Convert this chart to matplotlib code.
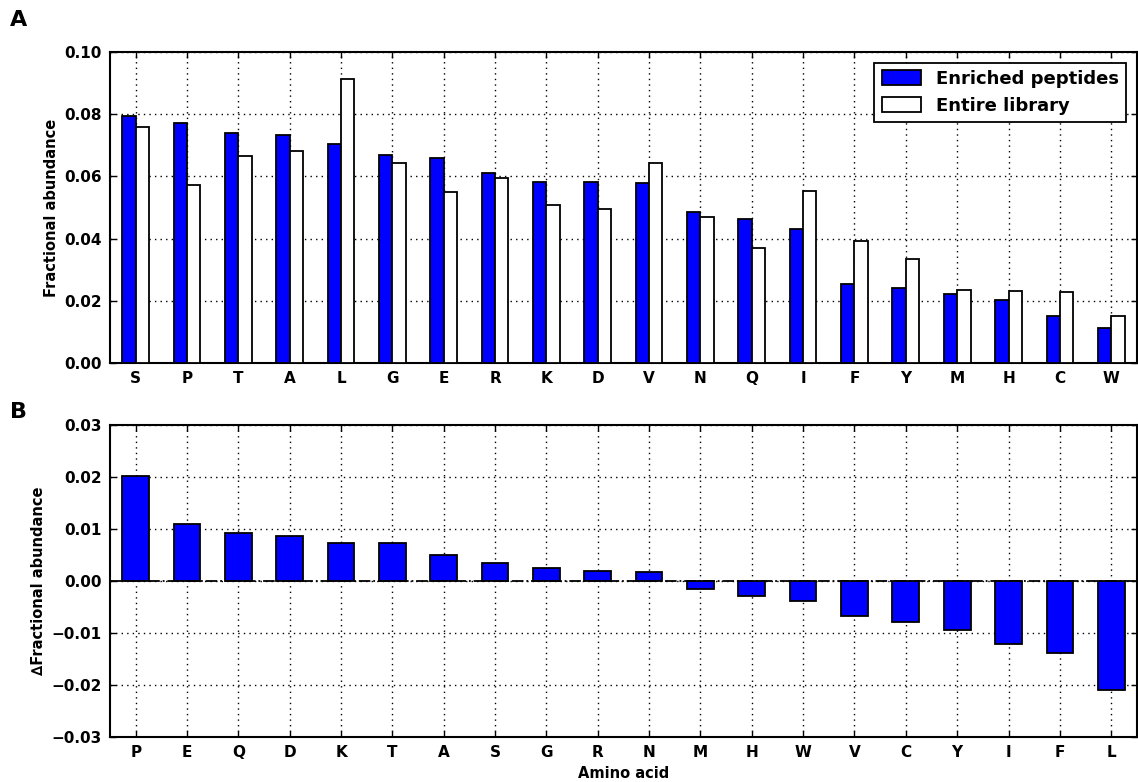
import matplotlib
matplotlib.use("Agg")
import matplotlib.pyplot as plt
import numpy as np

# panel A: fractional abundance per amino acid
amino_a = ["S", "P", "T", "A", "L", "G", "E", "R", "K", "D",
           "V", "N", "Q", "I", "F", "Y", "M", "H", "C", "W"]
enriched = [0.0793, 0.0773, 0.0740, 0.0732, 0.0703, 0.0668, 0.0659, 0.0612, 0.0582, 0.0581,
            0.0579, 0.0486, 0.0463, 0.0431, 0.0254, 0.0240, 0.0222, 0.0204, 0.0152, 0.0113]
library = [0.0759, 0.0571, 0.0667, 0.0682, 0.0913, 0.0642, 0.0549, 0.0594, 0.0507, 0.0495,
           0.0644, 0.0468, 0.0370, 0.0553, 0.0392, 0.0333, 0.0235, 0.0231, 0.0228, 0.0150]

# panel B: difference, sorted
amino_b = ["P", "E", "Q", "D", "K", "T", "A", "S", "G", "R",
           "N", "M", "H", "W", "V", "C", "Y", "I", "F", "L"]
delta = [0.0202, 0.0110, 0.0093, 0.0086, 0.0074, 0.0073, 0.0051, 0.0035, 0.0026, 0.0019,
         0.0018, -0.0015, -0.0029, -0.0038, -0.0067, -0.0079, -0.0094, -0.0122, -0.0138, -0.0210]

plt.rcParams["font.family"] = "DejaVu Sans"
plt.rcParams["font.weight"] = "bold"
plt.rcParams["axes.labelweight"] = "bold"

fig = plt.figure(figsize=(11.38, 7.82), dpi=100)
ax1 = fig.add_axes([0.0967, 0.5358, 0.9023, 0.3977])
ax2 = fig.add_axes([0.0967, 0.0575, 0.9023, 0.3990])

blue = "#0000ff"
w = 0.26
x = np.arange(len(amino_a))
ax1.bar(x - w / 2, enriched, w, color=blue, edgecolor="black", linewidth=1.3,
        label="Enriched peptides", zorder=3)
ax1.bar(x + w / 2, library, w, color="white", edgecolor="black", linewidth=1.3,
        label="Entire library", zorder=3)
ax1.set_xlim(-0.5, len(amino_a) - 0.5)
ax1.set_ylim(0, 0.10)
ax1.set_xticks(x)
ax1.set_xticklabels(amino_a)
ax1.set_yticks(np.arange(0, 0.101, 0.02))
ax1.set_ylabel("Fractional abundance", fontsize=10.5)
leg = ax1.legend(loc="upper right", fontsize=13, fancybox=False, framealpha=1,
                 edgecolor="black", handlelength=2.2, handleheight=0.9,
                 borderaxespad=0.6)
leg.get_frame().set_linewidth(1.3)

xb = np.arange(len(amino_b))
ax2.bar(xb, delta, 0.52, color=blue, edgecolor="black", linewidth=1.3, zorder=3)
ax2.axhline(0, color="black", linestyle="-.", linewidth=1.3, zorder=4)
ax2.set_xlim(-0.5, len(amino_b) - 0.5)
ax2.set_ylim(-0.03, 0.03)
ax2.set_xticks(xb)
ax2.set_xticklabels(amino_b)
ax2.set_yticks(np.arange(-0.03, 0.031, 0.01))
ax2.set_ylabel("\u2206Fractional abundance", fontsize=10.5)
ax2.set_xlabel("Amino acid", fontsize=10.5, labelpad=4)

fmt = matplotlib.ticker.FuncFormatter(lambda v, p: ("%.2f" % v).replace("-", "\u2212"))
for ax in (ax1, ax2):
    ax.yaxis.set_major_formatter(fmt)
    ax.grid(True, color="black", linestyle=(0, (1, 3)), linewidth=1.0, zorder=0)
    ax.set_axisbelow(True)
    ax.tick_params(direction="in", top=True, right=True, length=4, width=1,
                   labelsize=11, pad=6)
    for s in ax.spines.values():
        s.set_linewidth(1.5)
    for lab in ax.get_xticklabels() + ax.get_yticklabels():
        lab.set_fontweight("bold")

fig.text(0.009, 0.975, "A", fontsize=16, fontweight="bold", va="center")
fig.text(0.009, 0.473, "B", fontsize=16, fontweight="bold", va="center")

fig.savefig("out.png", dpi=100)
